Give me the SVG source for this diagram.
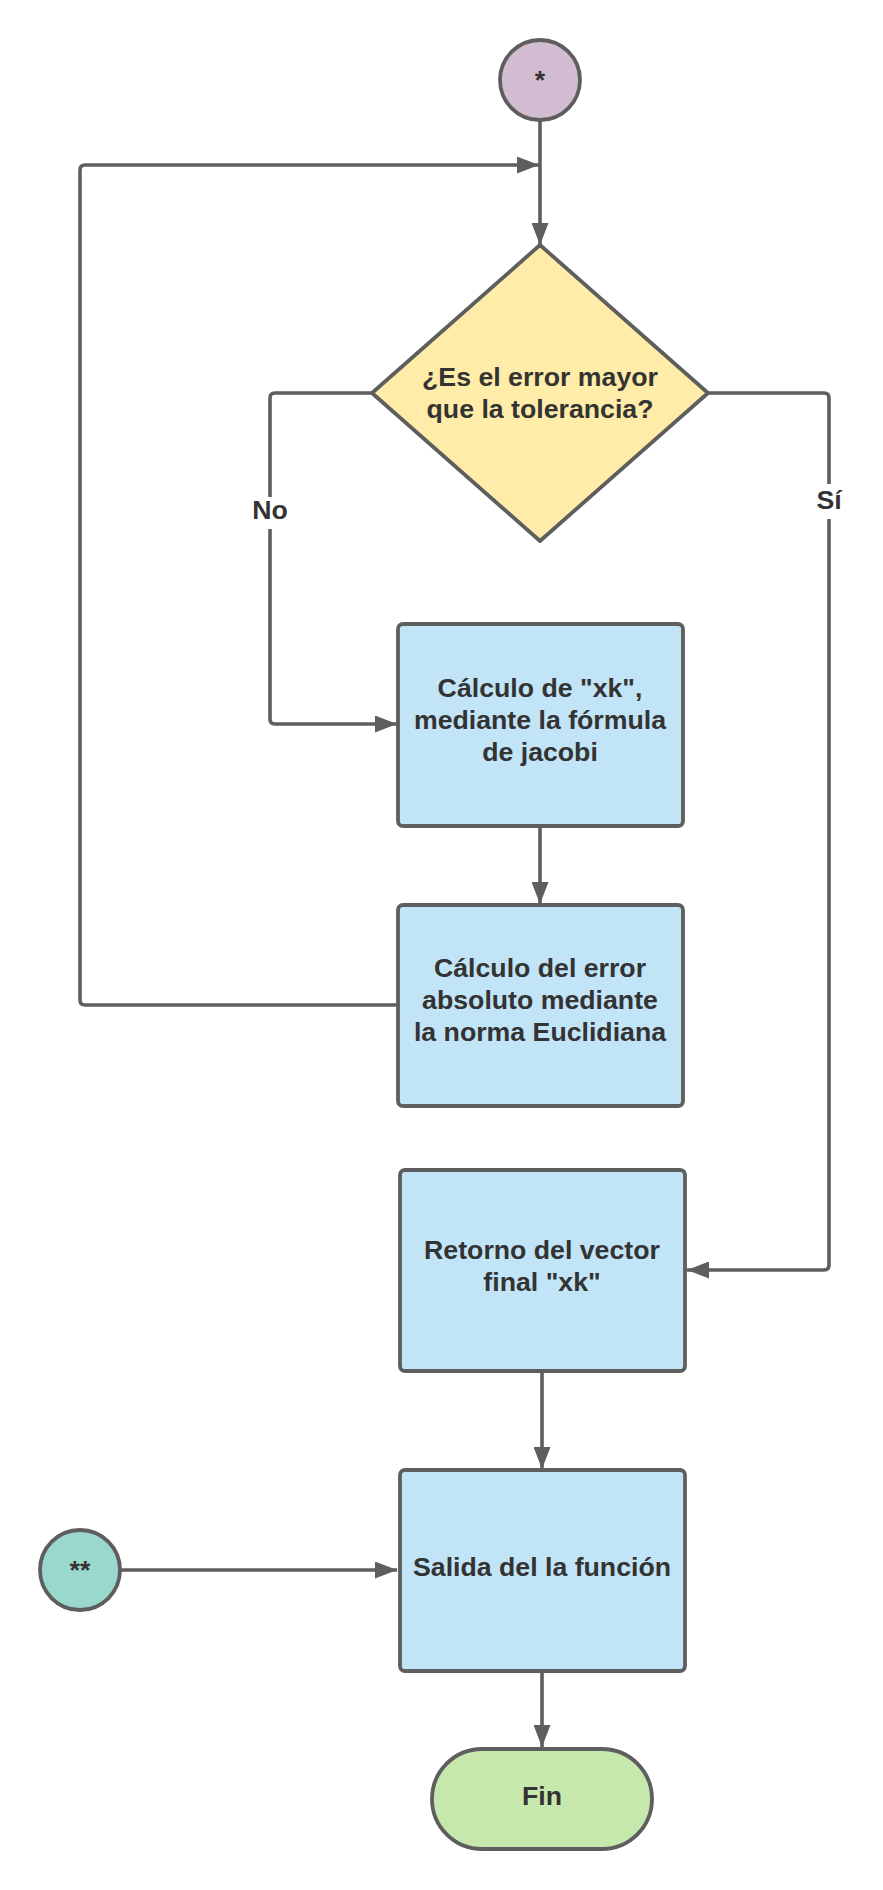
<svg xmlns="http://www.w3.org/2000/svg" width="883" height="1890" viewBox="0 0 883 1890">
<style>
.shape{stroke:#5e5e5e;stroke-width:3.8;stroke-linejoin:round}
.conn{fill:none;stroke:#5e5e5e;stroke-width:3.6;stroke-linejoin:round}
.t{font-family:"Liberation Sans",Arial,sans-serif;font-weight:bold;font-size:26.7px;fill:#333333;text-anchor:middle}
.box{fill:#c1e4f7}
</style>
<defs>
<marker id="arr" markerUnits="userSpaceOnUse" markerWidth="23" markerHeight="17" viewBox="0 0 23 17" refX="22" refY="8.5" orient="auto">
<path d="M0,0 L22,8.5 L0,17 Z" fill="#5e5e5e"/>
</marker>
</defs>
<rect width="883" height="1890" fill="#ffffff"/>
<g id="connectors">
<path class="conn" d="M540,121 L540,245" marker-end="url(#arr)"/>
<path class="conn" d="M398,1005 L85,1005 Q80,1005 80,1000 L80,170 Q80,165 85,165 L539,165" marker-end="url(#arr)"/>
<path class="conn" d="M372,393 L275,393 Q270,393 270,398 L270,719 Q270,724 275,724 L397,724" marker-end="url(#arr)"/>
<path class="conn" d="M708,393 L824,393 Q829,393 829,398 L829,1265 Q829,1270 824,1270 L687,1270" marker-end="url(#arr)"/>
<path class="conn" d="M540,826 L540,904" marker-end="url(#arr)"/>
<path class="conn" d="M542,1371 L542,1469" marker-end="url(#arr)"/>
<path class="conn" d="M120,1570 L397,1570" marker-end="url(#arr)"/>
<path class="conn" d="M542,1671 L542,1747" marker-end="url(#arr)"/>
<rect x="250" y="497" width="40" height="32" fill="#ffffff"/>
<text class="t" x="270" y="519">No</text>
<rect x="810" y="484" width="38" height="35" fill="#ffffff"/>
<text class="t" x="829" y="509">Sí</text>
</g>
<g id="start">
<circle class="shape" cx="540" cy="80" r="40" fill="#d1bcd2"/>
<text class="t" x="540" y="89">*</text>
</g>
<g id="decision">
<polygon class="shape" points="540,245 708,393 540,541 372,393" fill="#ffeca9"/>
<text class="t" x="540" y="386">¿Es el error mayor</text>
<text class="t" x="540" y="418">que la tolerancia?</text>
</g>
<g id="calc-xk">
<rect class="shape box" x="398" y="624" width="285" height="202" rx="5"/>
<text class="t" x="540" y="697">Cálculo de "xk",</text>
<text class="t" x="540" y="729">mediante la fórmula</text>
<text class="t" x="540" y="761">de jacobi</text>
</g>
<g id="calc-error">
<rect class="shape box" x="398" y="905" width="285" height="201" rx="5"/>
<text class="t" x="540" y="977">Cálculo del error</text>
<text class="t" x="540" y="1009">absoluto mediante</text>
<text class="t" x="540" y="1041">la norma Euclidiana</text>
</g>
<g id="return">
<rect class="shape box" x="400" y="1170" width="285" height="201" rx="5"/>
<text class="t" x="542" y="1259">Retorno del vector</text>
<text class="t" x="542" y="1291">final "xk"</text>
</g>
<g id="output">
<rect class="shape box" x="400" y="1470" width="285" height="201" rx="5"/>
<text class="t" x="542" y="1576">Salida del la función</text>
</g>
<g id="connector2">
<circle class="shape" cx="80" cy="1570" r="40" fill="#9ad7cd"/>
<text class="t" x="80" y="1579">**</text>
</g>
<g id="end">
<rect class="shape" x="432" y="1749" width="220" height="100" rx="50" fill="#c7e8ac"/>
<text class="t" x="542" y="1805">Fin</text>
</g>
</svg>
